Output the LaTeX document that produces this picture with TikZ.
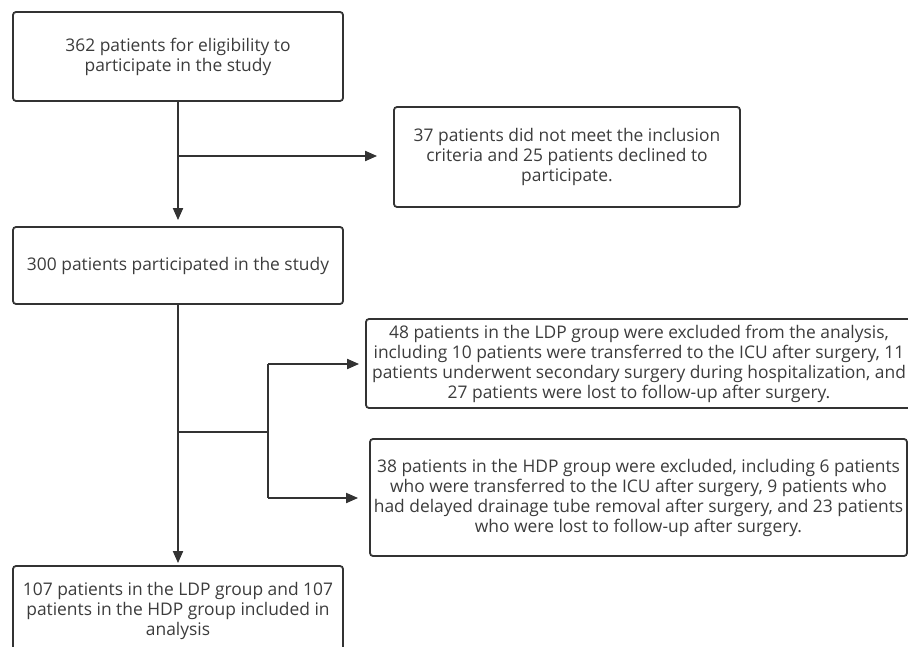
\documentclass[tikz,border=0pt]{standalone}
\usepackage{fontspec}
\setmainfont{Open Sans}
\usetikzlibrary{arrows.meta}

\definecolor{linegray}{HTML}{333333}
\definecolor{textgray}{HTML}{3C3C3C}

\tikzset{
  box/.style={draw=linegray, line width=1.8pt, rounded corners=3pt, align=center,
    text=textgray, font=\fontsize{17.4}{20}\selectfont},
  link/.style={draw=linegray, line width=1.8pt},
  arr/.style={link, -{Triangle[length=12pt,width=10pt]}},
}

\begin{document}
\begin{tikzpicture}[x=1pt,y=-1pt]
\useasboundingbox (0,0) rectangle (908,647);
\clip (0,0) rectangle (908,647);
% Main column
\node[box, minimum width=330pt, minimum height=89pt] (screen) at (178,56.5)
  {362 patients for eligibility to\\participate in the study};
\node[box, minimum width=330pt, minimum height=77pt] (part) at (178,265.5)
  {300 patients participated in the study};
\node[box, minimum width=330pt, minimum height=90pt] (final) at (178,611)
  {107 patients in the LDP group and 107\\patients in the HDP group included in\\analysis};
% Exclusion boxes
\node[box, minimum width=346pt, minimum height=100pt] (excl) at (567,157)
  {37 patients did not meet the inclusion\\criteria and 25 patients declined to\\participate.};
\node[box, minimum width=546pt, minimum height=89pt] (ldp) at (639,363.5)
  {48 patients in the LDP group were excluded from the analysis,\\including 10 patients were transferred to the ICU after surgery, 11\\patients underwent secondary surgery during hospitalization, and\\27 patients were lost to follow-up after surgery.};
\node[box, minimum width=537pt, minimum height=117pt] (hdp) at (638.5,497.5)
  {38 patients in the HDP group were excluded, including 6 patients\\who were transferred to the ICU after surgery, 9 patients who\\had delayed drainage tube removal after surgery, and 23 patients\\who were lost to follow-up after surgery.};
% Branch points
\coordinate (fork1) at (178,156);
\coordinate (fork2) at (178,432);
\coordinate (split) at (268,432);
\coordinate (up) at (268,364);
\coordinate (dn) at (268,498);
% Connectors
\draw[arr, shorten >=6pt] (screen.south) -- (part.north);
\draw[arr, shorten >=16pt] (fork1) -- (fork1 -| excl.west);
\draw[arr, shorten >=2pt] (part.south) -- (final.north);
\draw[link] (fork2) -- (split);
\draw[link] (up) -- (dn);
\draw[arr, shorten >=6pt] (up) -- (up -| ldp.west);
\draw[arr, shorten >=11pt] (dn) -- (dn -| hdp.west);
\end{tikzpicture}
\end{document}
